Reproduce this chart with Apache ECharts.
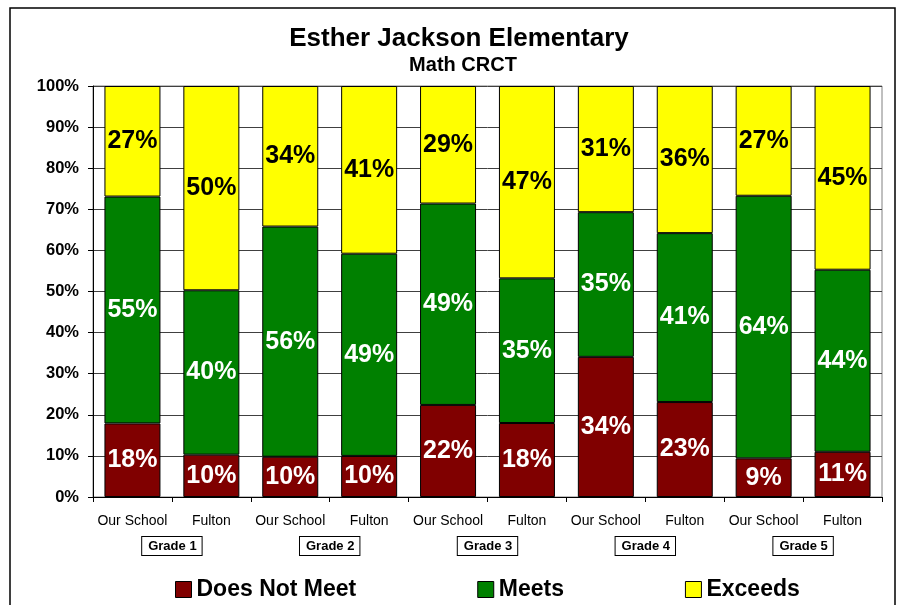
<!DOCTYPE html>
<html>
<head>
<meta charset="utf-8">
<script src="https://cdn.jsdelivr.net/npm/echarts@6/dist/echarts.min.js"></script>
<style>
  html, body { margin: 0; padding: 0; background: #fff; }
  #chart { width: 898px; height: 605px; }
</style>
</head>
<body>
<div id="chart"></div>
<script>
const categories = ['Our School', 'Fulton', 'Our School', 'Fulton', 'Our School', 'Fulton', 'Our School', 'Fulton', 'Our School', 'Fulton'];
const grades = ['Grade 1', 'Grade 2', 'Grade 3', 'Grade 4', 'Grade 5'];
const doesNotMeet = [17.9, 10.3, 9.8, 10.0, 22.4, 18.0, 34.1, 23.1, 9.4, 11.0];
const meets =       [55.2, 40.0, 56.0, 49.2, 49.0, 35.2, 35.2, 41.1, 63.9, 44.3];
const exceeds =     [26.9, 49.7, 34.2, 40.8, 28.6, 46.8, 30.7, 35.8, 26.7, 44.7];
const yTicks = [0, 10, 20, 30, 40, 50, 60, 70, 80, 90, 100];

const FONT = '"Liberation Sans", Arial, sans-serif';
const chart = echarts.init(document.getElementById('chart'), null, { renderer: 'canvas' });

function mkSeries(name, data, color, labelColor) {
  return {
    name: name,
    type: 'bar',
    stack: 'total',
    data: data,
    barWidth: 56,
    itemStyle: { color: color, borderColor: '#000', borderWidth: 1 },
    label: {
      show: true,
      position: 'inside',
      formatter: p => Math.round(p.value) + '%',
      color: labelColor,
      fontFamily: FONT,
      fontWeight: 'bold',
      fontSize: 25
    },
    emphasis: { disabled: true }
  };
}

chart.setOption({
  animation: false,
  textStyle: { fontFamily: FONT },
  graphic: [{
    type: 'rect',
    shape: { x: 10, y: 8, width: 885, height: 640 },
    style: { fill: 'none', stroke: '#000', lineWidth: 1.5 },
    silent: true
  }],
  title: [
    { text: 'Esther Jackson Elementary', left: 454, top: 21, textAlign: 'center',
      textStyle: { fontFamily: FONT, fontWeight: 'bold', fontSize: 26, color: '#000' } },
    { text: 'Math CRCT', left: 458, top: 50, textAlign: 'center',
      textStyle: { fontFamily: FONT, fontWeight: 'bold', fontSize: 20, color: '#000' } }
  ],
  legend: {
    left: 170,
    top: 573,
    itemGap: 121,
    itemWidth: 16,
    itemHeight: 16,
    icon: 'rect',
    itemStyle: { borderColor: '#000', borderWidth: 1 },
    textStyle: { fontFamily: FONT, fontWeight: 'bold', fontSize: 23, color: '#000' },
    data: ['Does Not Meet', 'Meets', 'Exceeds']
  },
  grid: {
    left: 93, right: 16, top: 86, bottom: 108,
    show: true, borderColor: '#808080', borderWidth: 1, backgroundColor: 'transparent'
  },
  xAxis: [{
    type: 'category',
    data: categories,
    position: 'bottom',
    axisLine: { lineStyle: { color: '#000', width: 1 } },
    axisTick: { show: true, length: 5, lineStyle: { color: '#000' } },
    axisLabel: { interval: 0, margin: 17, fontFamily: FONT, fontSize: 14, color: '#000' }
  }, {
    type: 'category',
    data: grades,
    position: 'bottom',
    axisLine: { show: false },
    axisTick: { show: false },
    splitLine: { show: false },
    axisLabel: {
      interval: 0, margin: 40, fontFamily: FONT, fontSize: 13, fontWeight: 'bold', color: '#000',
      borderColor: '#000', borderWidth: 1, padding: [3, 5, 2, 6], backgroundColor: '#fff'
    }
  }],
  yAxis: {
    type: 'value',
    min: 0, max: 100, interval: 10,
    axisLine: { show: true, lineStyle: { color: '#000', width: 1 } },
    axisTick: { show: true, length: 5, lineStyle: { color: '#000' } },
    splitLine: { show: true, lineStyle: { color: '#404040', width: 1 } },
    axisLabel: {
      margin: 14,
      fontFamily: FONT, fontWeight: 'bold', fontSize: 16.5, color: '#000',
      formatter: v => yTicks.includes(v) ? v + '%' : ''
    }
  },
  series: [
    mkSeries('Does Not Meet', doesNotMeet, '#800000', '#fff'),
    mkSeries('Meets', meets, '#008000', '#fff'),
    mkSeries('Exceeds', exceeds, '#FFFF00', '#000')
  ]
});
</script>
</body>
</html>
